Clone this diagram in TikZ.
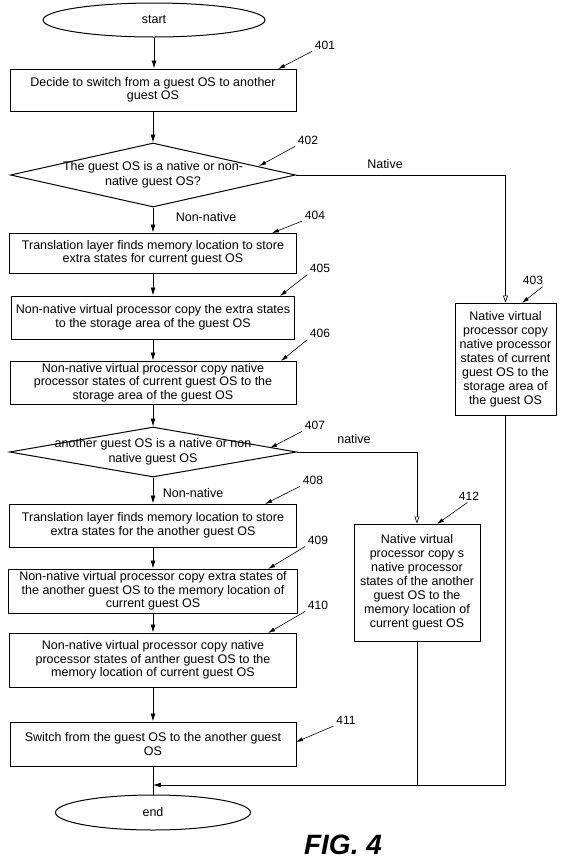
\documentclass[tikz,border=0pt]{standalone}
\usepackage{fontspec}
\setmainfont{Liberation Sans}
\usetikzlibrary{arrows.meta,shapes.geometric}
\begin{document}
\begin{tikzpicture}[x=1pt,y=-1pt,
  box/.style={draw, line width=1pt, align=center, inner sep=0pt, font=\fontsize{12.5}{13.5}\selectfont},
  nbox/.style={box, font=\fontsize{12.5}{14}\selectfont},
  term/.style={draw, ellipse, line width=1pt, inner sep=0pt, font=\fontsize{12.5}{14}\selectfont},
  dec/.style={draw, diamond, line width=1pt, inner sep=0pt},
  dtext/.style={align=center, font=\fontsize{12.5}{15}\selectfont},
  arr/.style={line width=0.8pt, -{Latex[length=8pt,width=5pt]}},
  oarr/.style={line width=0.6pt, -{Triangle[open,length=7pt,width=5pt]}},
  plain/.style={line width=0.8pt},
  lead/.style={line width=0.6pt, -{Latex[length=7pt,width=4pt]}, shorten <=2pt},
  num/.style={font=\fontsize{12}{14}\selectfont, inner sep=1pt},
  blab/.style={font=\fontsize{12.5}{14}\selectfont, inner sep=1pt}
]
\useasboundingbox[fill=white] (0,0) rectangle (576,863);

% main column
\node[term, minimum width=222pt, minimum height=34pt] (start) at (154,20) {start};
\node[box, minimum width=286pt, minimum height=42pt] (n401) at (153,90) {Decide to switch from a guest OS to another\\guest OS};
\node[dec, minimum width=285pt, minimum height=64pt, label={[dtext]center:The guest OS is a native or non-\\native guest OS?}] (n402) at (153,175) {};
\node[box, minimum width=287pt, minimum height=40pt] (n404) at (153,253) {Translation layer finds memory location to store\\extra states for current guest OS};
\node[box, minimum width=283pt, minimum height=43pt] (n405) at (153,317.5) {Non-native virtual processor copy the extra states\\to the storage area of the guest OS};
\node[box, minimum width=286pt, minimum height=43pt] (n406) at (153,382.5) {Non-native virtual processor copy native\\processor states of current guest OS to the\\storage area of the guest OS};
\node[dec, minimum width=287pt, minimum height=50pt, label={[dtext]center:another guest OS is a native or non\\native guest OS}] (n407) at (153,452) {};
\node[box, minimum width=287pt, minimum height=43pt] (n408) at (153,525.5) {Translation layer finds memory location to store\\extra states for the another guest OS};
\node[box, minimum width=289pt, minimum height=44pt] (n409) at (153,591) {Non-native virtual processor copy extra states of\\the another guest OS to the memory location of\\current guest OS};
\node[box, minimum width=287pt, minimum height=54pt] (n410) at (153,660) {Non-native virtual processor copy native\\processor states of anther guest OS to the\\memory location of current guest OS};
\node[box, minimum width=286pt, minimum height=44pt] (n411) at (153,744) {Switch from the guest OS to the another guest\\OS};
\node[term, minimum width=195pt, minimum height=35pt] (endn) at (153,812.5) {end};

% right column
\node[nbox, minimum width=101pt, minimum height=112pt] (n403) at (505.5,359) {Native virtual\\processor copy\\native processor\\states of current\\guest OS to the\\storage area of\\the guest OS};
\node[nbox, minimum width=126pt, minimum height=117pt] (n412) at (417,582.5) {Native virtual\\processor copy s\\native processor\\states of the another\\guest OS to the\\memory location of\\current guest OS};

% connectors
\draw[arr] (start.south) -- (start.south |- n401.north);
\draw[arr] (n401) -- (n402);
\draw[arr] (n402) -- (n404);
\draw[arr] (n404) -- (n405);
\draw[arr] (n405) -- (n406);
\draw[arr] (n406) -- (n407);
\draw[arr] (n407) -- (n408);
\draw[arr] (n408) -- (n409);
\draw[arr] (n409) -- (n410);
\draw[arr] (n410) -- (n411);
\draw[plain] (n411) -- (endn);
\draw[oarr] (n402.east) -| (n403.north);
\draw[oarr] (n407.east) -| (n412.north);
\coordinate (merge) at (153,785);
\draw[arr] (n403.south) |- (merge);
\draw[plain] (n412.south) -- (n412.south |- merge);

% branch labels
\node[blab] (lnat1) at (385,164) {Native};
\node[blab] (lnon1) at (206,217) {Non-native};
\node[blab] (lnat2) at (354,439) {native};
\node[blab] (lnon2) at (193,493) {Non-native};

% reference numerals
\node[num] (k401) at (325,45) {401};
\node[num] (k402) at (308,140) {402};
\node[num] (k403) at (533,280) {403};
\node[num] (k404) at (315,215) {404};
\node[num] (k405) at (320,268) {405};
\node[num] (k406) at (320,333) {406};
\node[num] (k407) at (315,425) {407};
\node[num] (k408) at (313,480) {408};
\node[num] (k409) at (318,540) {409};
\node[num] (k410) at (318,605) {410};
\node[num] (k411) at (346,720) {411};
\node[num] (k412) at (469,496) {412};

\coordinate (p401) at (278,69);
\coordinate (p402) at (259,166);
\coordinate (p403) at (522,303);
\coordinate (p404) at (272,233);
\coordinate (p405) at (280,296);
\coordinate (p406) at (281,361);
\coordinate (p407) at (270,448);
\coordinate (p408) at (265,504);
\coordinate (p409) at (268,569);
\coordinate (p410) at (268,633);
\coordinate (p411) at (296,742);
\coordinate (p412) at (437,524);

\draw[lead] (k401.south west) -- (p401);
\draw[lead] (k402.south west) -- (p402);
\draw[lead] (k403.south east) -- (p403);
\draw[lead] (k404.south west) -- (p404);
\draw[lead] (k405.south west) -- (p405);
\draw[lead] (k406.south west) -- (p406);
\draw[lead] (k407.south west) -- (p407);
\draw[lead] (k408.south west) -- (p408);
\draw[lead] (k409.south west) -- (p409);
\draw[lead] (k410.south west) -- (p410);
\draw[lead] (k411.south west) -- (p411);
\draw[lead] (k412.south) -- (p412);

\node[font=\bfseries\itshape\fontsize{28}{30}\selectfont] (fig) at (343,845) {FIG. 4};
\end{tikzpicture}
\end{document}
